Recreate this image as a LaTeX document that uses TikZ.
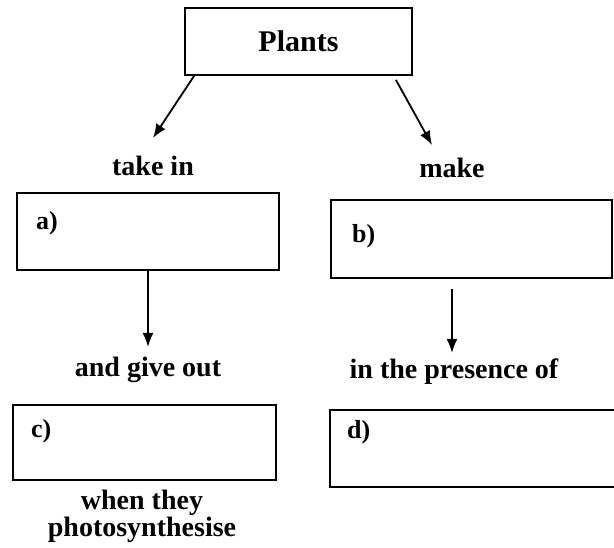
\documentclass[tikz,border=0pt]{standalone}
\usepackage{fontspec}
\setmainfont{Liberation Serif}
\usetikzlibrary{arrows.meta}
\begin{document}
\begin{tikzpicture}[x=1pt, y=-1pt]

	\tikzstyle{box} = [rectangle, draw=black, line width=1.8pt, inner sep=0pt]
	\tikzstyle{word} = [font=\bfseries\fontsize{28}{27}\selectfont, inner sep=0pt]
	\tikzstyle{letter} = [font=\bfseries\fontsize{26}{28}\selectfont, inner sep=0pt, anchor=west]
	\tikzstyle{edge} = [-{Latex[length=14pt, width=11pt]}, line width=1.8pt]

	\useasboundingbox (0,0) rectangle (614,548);
%------------------------------------------------------------
	\node[box, minimum width=227pt, minimum height=67pt, font=\bfseries\fontsize{30}{32}\selectfont] (plants) at (298.5,41.5) {Plants};

	\coordinate (tipL) at (153,138);
	\coordinate (tipR) at (432,145);
	\path[edge] ([xshift=10pt]plants.south west) edge (tipL);
	\path[edge] ([xshift=-17pt, yshift=-4pt]plants.south east) edge (tipR);

	\node[word] (takein) at (153,166) {take in};
	\node[word] (make) at (452,168) {make};
%------------------------------------------------------------
	\node[box, minimum width=262pt, minimum height=77pt] (a) at (148,231.5) {};
	\node[box, minimum width=281pt, minimum height=78pt] (b) at (471.5,239) {};
	\node[letter] (la) at (36,223) {a)};
	\node[letter] (lb) at (352,236) {b)};

	\coordinate (tipA) at (148,347);
	\coordinate (tipB) at (452,353);
	\path[edge] (a.south) edge (tipA);
	\path[edge] ([xshift=-19.5pt, yshift=-10pt]b.south) edge (tipB);

	\node[word] (giveout) at (148,370) {and give out};
	\node[word] (presence) at (454,372) {in the presence of};
%------------------------------------------------------------
	\node[box, minimum width=263pt, minimum height=75pt] (c) at (144.5,442.5) {};
	\node[box, minimum width=286pt, minimum height=77pt] (d) at (473,448.5) {};
	\node[letter] (lc) at (31,431) {c)};
	\node[letter] (ld) at (347,432) {d)};

	\node[word, align=center] (when) at (142,516) {when they\\photosynthesise};

\end{tikzpicture}
\end{document}
